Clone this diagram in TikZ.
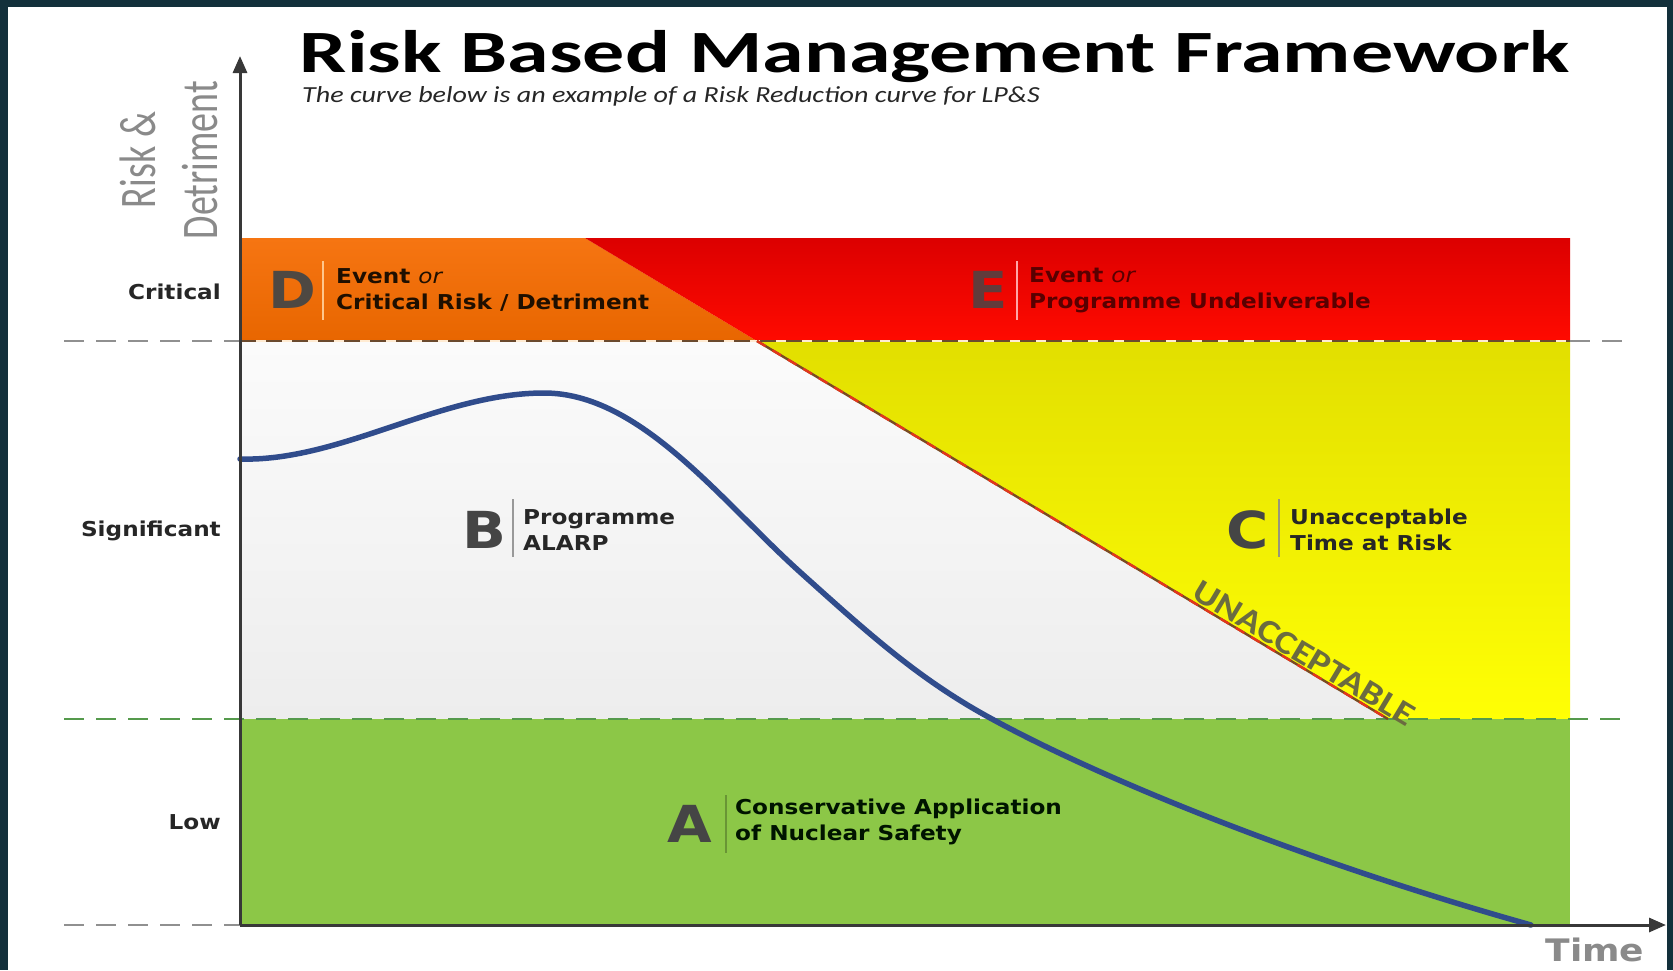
\documentclass[tikz,border=0pt]{standalone}
\usepackage{fontspec}
\usetikzlibrary{arrows.meta}

% Typefaces
\newfontfamily\titlefont[FakeStretch=1.40]{Carlito}
\newfontfamily\subfont[FakeStretch=1.22]{Carlito}
\newfontfamily\slantfont[FakeStretch=1.18]{Carlito}
\newfontfamily\axisfont{Carlito}
\newfontfamily\lblfont[FakeStretch=1.13]{DejaVu Sans}
\newfontfamily\timefont[FakeStretch=1.16]{DejaVu Sans}

% Palette
\definecolor{framebg}{HTML}{13303B}
\definecolor{axisgray}{HTML}{383838}
\definecolor{dashgray}{HTML}{909090}
\definecolor{dashgreen}{HTML}{559A4C}
\definecolor{orangetop}{HTML}{F67512}
\definecolor{orangebot}{HTML}{E86600}
\definecolor{redtop}{HTML}{DC0000}
\definecolor{redbot}{HTML}{FF0A00}
\definecolor{yellowtop}{HTML}{E2DF00}
\definecolor{yellowbot}{HTML}{FFFF05}
\definecolor{paletop}{HTML}{FBFBFB}
\definecolor{palebot}{HTML}{EDEDED}
\definecolor{zonegreen}{HTML}{8CC747}
\definecolor{curveblue}{HTML}{304C8C}
\definecolor{lettergray}{HTML}{454545}
\definecolor{softgray}{HTML}{8A8A8A}
\definecolor{olivetext}{HTML}{6B6B40}
\definecolor{critbrown}{HTML}{6B4A2E}
\definecolor{critcream}{HTML}{FFEBD2}
\definecolor{diagred}{HTML}{E2361C}
\definecolor{diagbrown}{HTML}{7A4A22}

\begin{document}
\begin{tikzpicture}[x=1pt,y=-1pt,
  lbl/.style={font=\lblfont\bfseries\fontsize{20.5}{26}\selectfont, align=left, inner sep=0pt, anchor=west},
  bigletter/.style={font=\lblfont\bfseries\fontsize{51}{51}\selectfont, text=lettergray, inner sep=0pt},
  levellbl/.style={font=\lblfont\bfseries\fontsize{20.5}{26}\selectfont, text=black!85, inner sep=0pt, anchor=east},
  ytitle/.style={rotate=90, inner sep=0pt, text=softgray, font=\axisfont\fontsize{38}{38}\selectfont},
  sepline/.style={line width=1.6pt},
  graydash/.style={draw=dashgray, line width=2.4pt, dash pattern=on 20pt off 12pt},
  greendash/.style={draw=dashgreen, line width=2.4pt, dash pattern=on 20pt off 12pt},
  axisline/.style={draw=axisgray, line width=3pt, -{Triangle[length=17pt,width=14pt]}},
  curvestyle/.style={draw=curveblue, line width=5.5pt, line cap=round, line join=round}
]
\useasboundingbox (0,0) rectangle (1673,970);
\fill[white] (0,0) rectangle (1673,970);

% dark frame
\fill[framebg] (0,0) rectangle (1673,7);
\fill[framebg] (0,0) rectangle (8,970);
\fill[framebg] (1667,0) rectangle (1673,970);

% key points of the zones
\coordinate (bandTL) at (240,238);
\coordinate (bandTR) at (1570,238);
\coordinate (critL) at (240,341);
\coordinate (critR) at (1570,341);
\coordinate (lowL) at (240,719);
\coordinate (lowR) at (1570,719);
\coordinate (baseR) at (1570,925);
\coordinate (origin) at (240,925);
\coordinate (dtop) at (585,238);
\coordinate (dmid) at (757,341);
\coordinate (dlow) at (1388,719);
\coordinate (dend) at (1390,720);

% zones
\shade[top color=orangetop, bottom color=orangebot] (bandTL) -- (dtop) -- (dmid) -- (critL) -- cycle;
\shade[top color=redtop, bottom color=redbot] (dtop) -- (bandTR) -- (critR) -- (dmid) -- cycle;
\shade[top color=paletop, bottom color=palebot] (critL) -- (dmid) -- (dlow) -- (lowL) -- cycle;
\shade[top color=yellowtop, bottom color=yellowbot] (dmid) -- (critR) -- (lowR) -- (dlow) -- cycle;
\fill[zonegreen] (lowL) rectangle (baseR);

% level boundaries
\coordinate (critFarL) at (64,341);
\coordinate (critFarR) at (1627,341);
\coordinate (lowFarL) at (64,719);
\coordinate (lowFarR) at (1627,719);
\coordinate (baseFarL) at (64,925);
\draw[graydash] (critFarL) -- (critL);
\draw[graydash] (critR) -- (critFarR);
\draw[critcream, line width=2.6pt] (critL) -- (critR);
\draw[critbrown, line width=2.6pt, dash pattern=on 16pt off 10pt] (critL) -- (critR);
\draw[greendash] (lowFarL) -- (lowFarR);
\draw[graydash] (baseFarL) -- (origin);

% unacceptable boundary
\draw[diagbrown, line width=2.4pt] (dmid) -- (dlow);
\draw[diagred, line width=2.4pt, dash pattern=on 10pt off 8pt] (dmid) -- (dlow);
\path (dtop) -- (dend) node[pos=0.885, sloped, above=2pt, inner sep=0pt,
  font=\slantfont\bfseries\fontsize{33}{33}\selectfont, text=olivetext] (unacc) {UNACCEPTABLE};

% risk reduction curve
\draw[curvestyle] (240,459)
  .. controls (340,462) and (440,393) .. (544,393)
  .. controls (640,393) and (720,500) .. (800,572)
  .. controls (870,635) and (920,680) .. (992,719)
  .. controls (1100,778) and (1300,860) .. (1531,925);

% axes
\coordinate (ytop) at (240,56);
\coordinate (xend) at (1666,925);
\draw[axisline] (origin) -- (ytop);
\draw[axisline] (origin) -- (xend);

% title and subtitle
\node[anchor=base, inner sep=0pt, font=\titlefont\bfseries\fontsize{60}{60}\selectfont] (title) at (935,72) {Risk Based Management Framework};
\node[anchor=base west, inner sep=0pt, font=\subfont\itshape\fontsize{23}{23}\selectfont, text=black!85] (subtitle) at (302,102) {The curve below is an example of a Risk Reduction curve for LP\&S};

% axis titles
\node[ytitle] (yriskA) at (138,160) {\scalebox{1}[1.35]{Risk \&}};
\node[ytitle] (yriskB) at (200,160) {\scalebox{1}[1.35]{Detriment}};
\node[inner sep=0pt, text=softgray, font=\timefont\bfseries\fontsize{31}{31}\selectfont] (timelbl) at (1595,950) {Time};

% level labels
\node[levellbl] (lvlcrit) at (221,292) {Critical};
\node[levellbl] (lvlsig) at (221,531) {Significant};
\node[levellbl] (lvllow) at (221,822) {Low};

% zone D
\node[bigletter, text=lettergray!95!orange] (zD) at (292,290) {D};
\draw[sepline, draw=orange!45!white] (323,261) -- (323,320);
\node[lbl, text=black!80!orange!60!black] (tD) at (336,290) {Event {\mdseries\itshape or}\\Critical Risk / Detriment};

% zone E
\node[bigletter, text=lettergray!85!red] (zE) at (988,290) {E};
\draw[sepline, draw=red!35!white] (1017,261) -- (1017,320);
\node[lbl, text=red!35!black] (tE) at (1029,290) {Event {\mdseries\itshape or}\\Programme Undeliverable};

% zone B
\node[bigletter] (zB) at (484,530) {B};
\draw[sepline, draw=black!40] (513,499) -- (513,557);
\node[lbl, text=black!85] (tB) at (523,530) {Programme\\ALARP};

% zone C
\node[bigletter] (zC) at (1248,530) {C};
\draw[sepline, draw=olivetext!70] (1279,499) -- (1279,557);
\node[lbl, text=black!85] (tC) at (1290,530) {Unacceptable\\Time at Risk};

% zone A
\node[bigletter] (zA) at (690,824) {A};
\draw[sepline, draw=black!25!zonegreen] (726,795) -- (726,853);
\node[lbl, text=black!80!green!40!black] (tA) at (735,822) {Conservative Application\\of Nuclear Safety};
\end{tikzpicture}
\end{document}
